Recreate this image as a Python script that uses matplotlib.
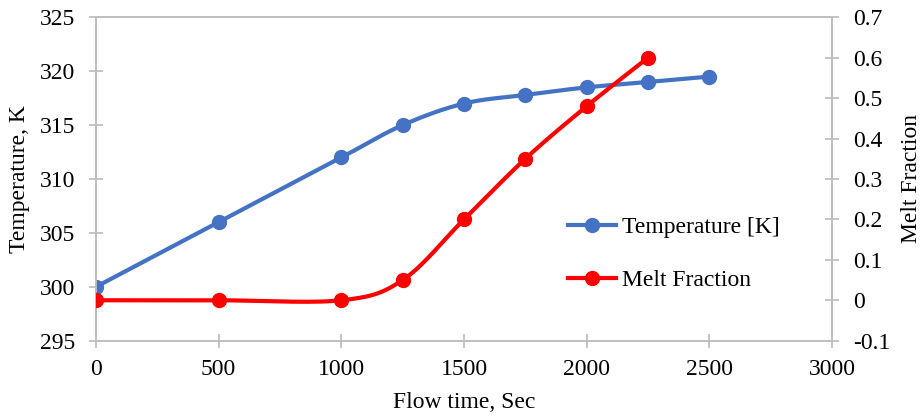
import numpy as np
import matplotlib
matplotlib.use("Agg")
import matplotlib.pyplot as plt
from matplotlib.lines import Line2D

time_t = [0, 500, 1000, 1250, 1500, 1750, 2000, 2250, 2500]
temperature = [300, 306, 312, 315, 317, 317.8, 318.5, 319, 319.5]
time_m = [0, 500, 1000, 1250, 1500, 1750, 2000, 2250]
melt = [0, 0, 0, 0.05, 0.2, 0.35, 0.48, 0.6]

plt.rcParams['font.family'] = ['Liberation Serif']

def smooth(x, y, n=40):
    # Catmull-Rom style Bezier smoothing (like Excel smoothed lines)
    x = np.asarray(x, float); y = np.asarray(y, float)
    xs, ys = [], []
    N = len(x)
    for i in range(N - 1):
        p0 = (x[i-1], y[i-1]) if i > 0 else (x[i], y[i])
        p1 = (x[i], y[i]); p2 = (x[i+1], y[i+1])
        p3 = (x[i+2], y[i+2]) if i + 2 < N else (x[i+1], y[i+1])
        c1 = (p1[0] + (p2[0]-p0[0])/6, p1[1] + (p2[1]-p0[1])/6)
        c2 = (p2[0] - (p3[0]-p1[0])/6, p2[1] - (p3[1]-p1[1])/6)
        t = np.linspace(0, 1, n)
        bx = (1-t)**3*p1[0] + 3*(1-t)**2*t*c1[0] + 3*(1-t)*t**2*c2[0] + t**3*p2[0]
        by = (1-t)**3*p1[1] + 3*(1-t)**2*t*c1[1] + 3*(1-t)*t**2*c2[1] + t**3*p2[1]
        xs.extend(bx); ys.extend(by)
    return np.array(xs), np.array(ys)

W, H = 924, 419
fig = plt.figure(figsize=(W/100, H/100), dpi=100)
x0, x1, y0, y1 = 96, 832, 17.3, 340.7
ax = fig.add_axes([x0/W, 1-y1/H, (x1-x0)/W, (y1-y0)/H])
ax2 = ax.twinx()

blue = '#4472C4'
red = '#FF0000'
sx, sy = smooth(time_t, temperature)
ax.plot(sx, sy, color=blue, lw=3, zorder=3)
ax.plot(time_t, temperature, 'o', color=blue, ms=10, zorder=4)
mx, my = smooth(time_m, melt)
ax2.plot(mx, my, color=red, lw=3, zorder=3)
ax2.plot(time_m, melt, 'o', color=red, ms=10, zorder=4)

ax.set_xlim(0, 3000)
ax.set_ylim(295, 325)
ax2.set_ylim(-0.1, 0.7)
ax.set_xticks(range(0, 3001, 500))
ax.set_yticks(range(295, 326, 5))
ax2.set_yticks(np.round(np.arange(-0.1, 0.71, 0.1), 1))
ax2.set_yticklabels(['-0.1', '0', '0.1', '0.2', '0.3', '0.4', '0.5', '0.6', '0.7'])

fs = 17
gray = '#BFBFBF'
for a in (ax, ax2):
    for s in a.spines.values():
        s.set_color(gray)
        s.set_linewidth(1.3)
    a.tick_params(colors=gray, labelcolor='black', labelsize=fs, direction='inout', length=10, width=1.3)
ax.tick_params(axis='x', pad=8)
ax.tick_params(axis='y', pad=10)
ax2.tick_params(axis='y', pad=10)

ax.set_xlabel('Flow time, Sec', fontsize=fs, labelpad=9)
ax.set_ylabel('Temperature, K', fontsize=fs, labelpad=7)
ax2.set_ylabel('Melt Fraction', fontsize=fs, labelpad=8)

handles = [Line2D([], [], color=blue, lw=3, marker='o', ms=10),
           Line2D([], [], color=red, lw=3, marker='o', ms=10)]
leg = ax.legend(handles, ['Temperature [K]', 'Melt Fraction'], loc='center left',
                bbox_to_anchor=(0.641, 0.268), frameon=False, fontsize=fs,
                handlelength=2.03, labelspacing=1.33, handletextpad=0.25,
                borderpad=0, borderaxespad=0)

fig.savefig('out.png', dpi=100)
